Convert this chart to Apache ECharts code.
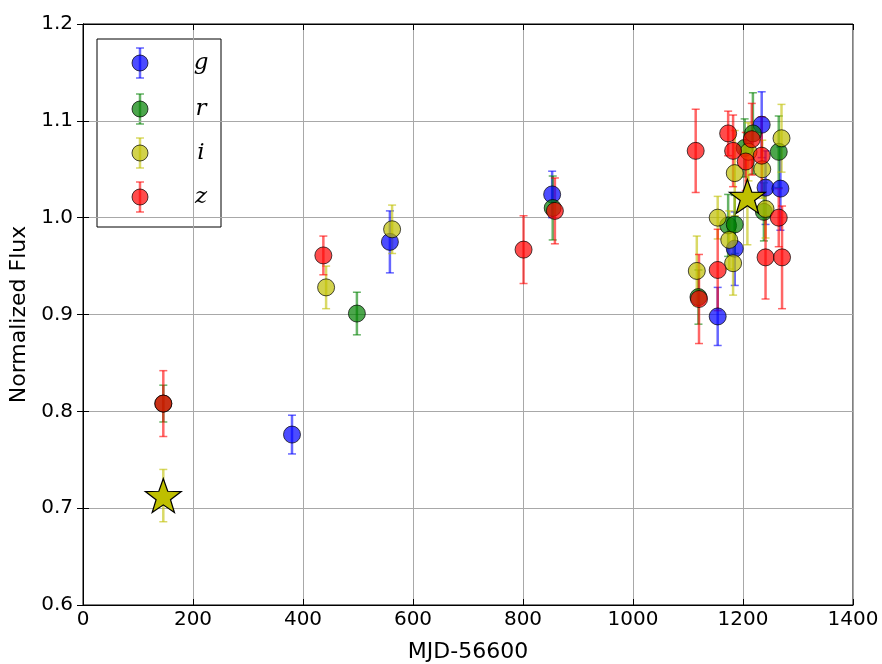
<!DOCTYPE html>
<html><head><meta charset="utf-8">
<script src="https://cdn.jsdelivr.net/npm/echarts@6/dist/echarts.min.js"></script>
<style>html,body{margin:0;padding:0;background:#fff}#c{width:882px;height:664px}</style>
</head><body><div id="c"></div>
<script>
// g band
var gX = [380, 558, 853, 1154, 1185, 1234, 1241, 1268];
var gY = [0.776, 0.975, 1.024, 0.898, 0.968, 1.096, 1.031, 1.030];
var gE = [0.020, 0.032, 0.024, 0.030, 0.038, 0.034, 0.038, 0.043];
// r band
var rX = [146, 498, 854, 1119, 1173, 1185, 1203, 1218, 1238, 1265];
var rY = [0.808, 0.901, 1.010, 0.918, 0.992, 0.993, 1.072, 1.087, 1.006, 1.068];
var rE = [0.019, 0.022, 0.033, 0.028, 0.032, 0.030, 0.030, 0.042, 0.030, 0.037];
// i band (circles)
var iX = [442, 562, 1116, 1154, 1175, 1182, 1185, 1210, 1235, 1241, 1270];
var iY = [0.928, 0.988, 0.945, 1.000, 0.977, 0.953, 1.046, 1.068, 1.050, 1.009, 1.082];
var iE = [0.022, 0.025, 0.036, 0.022, 0.030, 0.033, 0.044, 0.030, 0.030, 0.030, 0.035];
// i band (stars)
var iStarX = [146, 1208];
var iStarY = [0.713, 1.022];
var iStarE = [0.027, 0.050];
// z band
var zX = [146, 437, 801, 858, 1114, 1120, 1154, 1173, 1182, 1205, 1216, 1234, 1241, 1265, 1271];
var zY = [0.808, 0.961, 0.967, 1.007, 1.069, 0.916, 0.946, 1.087, 1.069, 1.058, 1.081, 1.064, 0.959, 1.000, 0.959];
var zE = [0.034, 0.020, 0.035, 0.034, 0.043, 0.046, 0.042, 0.023, 0.037, 0.030, 0.037, 0.040, 0.043, 0.030, 0.053];

var xTicks = [0, 200, 400, 600, 800, 1000, 1200, 1400];
var yTicks = [0.6, 0.7, 0.8, 0.9, 1.0, 1.1, 1.2];
var bandNames = ['g', 'r', 'i', 'z'];
var bandColors = ['#0000ff', '#008000', '#bfbf00', '#ff0000'];

function zip(xs, ys, es) { return xs.map(function (x, k) { return [x, ys[k], es[k]]; }); }

function errSeries(data, color) {
  return {
    type: 'custom', data: data, silent: true,
    encode: { x: 0, y: 1 },
    renderItem: function (params, api) {
      var x = api.value(0), y = api.value(1), e = api.value(2);
      var top = api.coord([x, y + e]), bot = api.coord([x, y - e]);
      var cw = 4;
      var st = { stroke: color, lineWidth: 2.5, opacity: 0.6 };
      return { type: 'group', children: [
        { type: 'line', shape: { x1: top[0], y1: top[1], x2: bot[0], y2: bot[1] }, style: st },
        { type: 'line', shape: { x1: top[0] - cw, y1: top[1], x2: top[0] + cw, y2: top[1] }, style: { stroke: color, lineWidth: 1.5, opacity: 0.6 } },
        { type: 'line', shape: { x1: bot[0] - cw, y1: bot[1], x2: bot[0] + cw, y2: bot[1] }, style: { stroke: color, lineWidth: 1.5, opacity: 0.6 } }
      ]};
    }
  };
}
function dotSeries(data, color) {
  return {
    type: 'scatter', data: data, symbol: 'circle', symbolSize: 17,
    itemStyle: { color: color, borderColor: '#000', borderWidth: 1, opacity: 0.7 },
    silent: true
  };
}

var starPath = 'path://M0,-10L2.35,-3.24L9.51,-3.09L3.8,1.24L5.88,8.09L0,4L-5.88,8.09L-3.8,1.24L-9.51,-3.09L-2.35,-3.24Z';

var bands = [
  zip(gX, gY, gE), zip(rX, rY, rE), zip(iX, iY, iE), zip(zX, zY, zE)
];
var series = [];
bands.forEach(function (d, k) {
  series.push(errSeries(d, bandColors[k]));
  series.push(dotSeries(d, bandColors[k]));
  if (k === 2) {
    var sd = zip(iStarX, iStarY, iStarE);
    series.push(errSeries(sd, bandColors[2]));
    series.push({
      type: 'scatter', data: sd, symbol: starPath, symbolSize: [36, 34],
      itemStyle: { color: '#bfbf00', borderColor: '#000', borderWidth: 1.2, opacity: 1 },
      silent: true, z: 5
    });
  }
});

var font = 'DejaVu Sans';
var grid = { left: 83, right: 29, top: 24, bottom: 59 };

// Legend graphics
var legendChildren = [{
  type: 'rect', shape: { x: 97, y: 39, width: 124, height: 188 },
  style: { fill: '#fff', stroke: '#000', lineWidth: 1 }
}];
var legendY = [63, 109, 153, 197];
bandNames.forEach(function (n, k) {
  var cy = legendY[k], cx = 140, c = bandColors[k];
  legendChildren.push({ type: 'line', shape: { x1: cx, y1: cy - 15, x2: cx, y2: cy + 15 }, style: { stroke: c, lineWidth: 2.5, opacity: 0.6 } });
  legendChildren.push({ type: 'line', shape: { x1: cx - 4, y1: cy - 15, x2: cx + 4, y2: cy - 15 }, style: { stroke: c, lineWidth: 1.5, opacity: 0.6 } });
  legendChildren.push({ type: 'line', shape: { x1: cx - 4, y1: cy + 15, x2: cx + 4, y2: cy + 15 }, style: { stroke: c, lineWidth: 1.5, opacity: 0.6 } });
  legendChildren.push({ type: 'circle', shape: { cx: cx, cy: cy, r: 8 }, style: { fill: c, stroke: '#000', lineWidth: 1, opacity: 0.7 } });
  legendChildren.push({ type: 'text', x: 201, y: cy, style: { text: n, fill: '#000', font: 'italic 23px "DejaVu Serif"', align: 'center', verticalAlign: 'middle' } });
});

var chart = echarts.init(document.getElementById('c'), null, { renderer: 'canvas' });
chart.setOption({
  animation: false,
  backgroundColor: '#fff',
  grid: Object.assign({ show: true, borderColor: '#000', borderWidth: 1, backgroundColor: 'transparent', containLabel: false, outerBoundsMode: 'none' }, grid),
  xAxis: [{
    type: 'value', min: 0, max: 1400, interval: 200, position: 'bottom',
    name: 'MJD-56600', nameLocation: 'middle', nameGap: 36,
    nameTextStyle: { fontFamily: font, fontSize: 22, color: '#000' },
    axisLine: { show: true, lineStyle: { color: '#000' } },
    axisTick: { inside: true, length: 6, lineStyle: { color: '#000' } },
    axisLabel: { fontFamily: font, fontSize: 20, color: '#000', margin: 5, formatter: function (v) { return String(v); } },
    splitLine: { show: true, lineStyle: { color: '#a8a8a8', width: 1 } }
  }, {
    type: 'value', min: 0, max: 1400, interval: 200, position: 'top',
    axisLine: { show: true, lineStyle: { color: '#000' } },
    axisTick: { inside: true, length: 6, lineStyle: { color: '#000' } },
    axisLabel: { show: false }, splitLine: { show: false }
  }],
  yAxis: [{
    type: 'value', min: 0.6, max: 1.2, interval: 0.1, position: 'left',
    name: 'Normalized Flux', nameLocation: 'middle', nameGap: 49,
    nameTextStyle: { fontFamily: font, fontSize: 22, color: '#000' },
    axisLine: { show: true, lineStyle: { color: '#000' } },
    axisTick: { inside: true, length: 6, lineStyle: { color: '#000' } },
    axisLabel: { fontFamily: font, fontSize: 20, color: '#000', margin: 10, formatter: function (v) { return v.toFixed(1); } },
    splitLine: { show: true, lineStyle: { color: '#a8a8a8', width: 1 } }
  }, {
    type: 'value', min: 0.6, max: 1.2, interval: 0.1, position: 'right',
    axisLine: { show: true, lineStyle: { color: '#000' } },
    axisTick: { inside: true, length: 6, lineStyle: { color: '#000' } },
    axisLabel: { show: false }, splitLine: { show: false }
  }],
  series: series,
  graphic: [{ type: 'group', z: 100, children: legendChildren }]
});
</script>
</body></html>
